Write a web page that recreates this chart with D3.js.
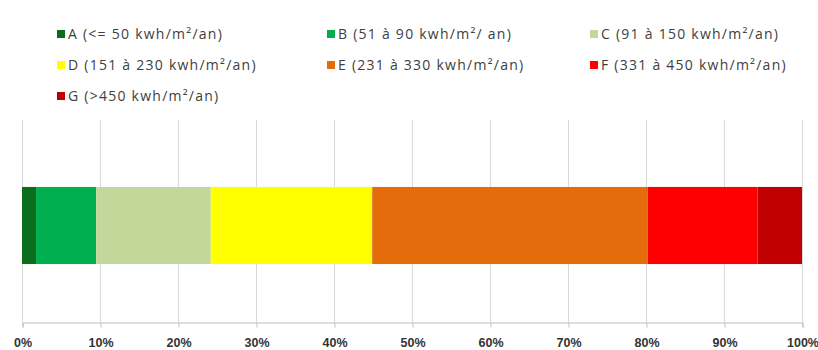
<!DOCTYPE html>
<html>
<head>
<meta charset="utf-8">
<script src="https://cdn.jsdelivr.net/npm/d3@7/dist/d3.min.js"></script>
<style>
  html, body { margin: 0; padding: 0; background: #fff; }
  svg { display: block; font-family: "Open Sans", "DejaVu Sans", sans-serif; }
</style>
</head>
<body>
<svg id="chart" width="818" height="350"></svg>
<script>
// Energy classes, their share of housing (%), and colours
const classes = ["A", "B", "C", "D", "E", "F", "G"];
const labels = [
  "A (<= 50 kwh/m²/an)",
  "B (51 à 90 kwh/m²/ an)",
  "C (91 à 150 kwh/m²/an)",
  "D (151 à 230 kwh/m²/an)",
  "E (231 à 330 kwh/m²/an)",
  "F (331 à 450 kwh/m²/an)",
  "G (>450 kwh/m²/an)"
];
const shares = [1.8, 7.7, 14.7, 20.7, 35.3, 14.1, 5.7];
const colors = ["#0a6e1c", "#00b050", "#c4d79b", "#ffff00", "#e46c0a", "#ff0000", "#c00000"];
const tickValues = [0, 10, 20, 30, 40, 50, 60, 70, 80, 90, 100];

const svg = d3.select("#chart");

const x = d3.scaleLinear().domain([0, 100]).range([22, 802]);
const plotTop = 120, axisY = 322;
const y = d3.scaleBand().domain(["total"]).range([plotTop, axisY])
  .paddingInner(0).paddingOuter(0.81).align(0.536);

// vertical gridlines
svg.append("g")
  .selectAll("line")
  .data(tickValues)
  .join("line")
  .attr("x1", d => x(d) + 0.5).attr("x2", d => x(d) + 0.5)
  .attr("y1", plotTop).attr("y2", axisY)
  .attr("stroke", "#d9d9d9").attr("stroke-width", 1);

// stacked segments
let acc = 0;
const stacked = shares.map((v, i) => { const s = { key: classes[i], x0: acc, x1: acc + v, color: colors[i] }; acc += v; return s; });

svg.append("g")
  .selectAll("rect")
  .data(stacked)
  .join("rect")
  .attr("x", d => x(d.x0))
  .attr("width", d => x(d.x1) - x(d.x0))
  .attr("y", y("total"))
  .attr("height", y.bandwidth())
  .attr("fill", d => d.color);

// bottom axis
const axis = d3.axisBottom(x)
  .tickValues(tickValues)
  .tickFormat(d => d + "%")
  .tickSize(5)
  .tickPadding(11);

const gAxis = svg.append("g")
  .attr("transform", `translate(0.5,${axisY + 0.5})`)
  .call(axis);
gAxis.select(".domain").attr("stroke", "#bfbfbf");
gAxis.selectAll(".tick line").attr("stroke", "#bfbfbf");
gAxis.selectAll(".tick text")
  .attr("fill", "#333")
  .style("font-size", "12.5px")
  .style("font-weight", "bold");

// legend, three columns
const colX = [57, 327, 590];
const rowY = [34, 65, 96];
const legend = svg.append("g")
  .selectAll("g")
  .data(labels)
  .join("g")
  .attr("transform", (d, i) => `translate(${colX[i % 3]},${rowY[Math.floor(i / 3)]})`);

legend.append("rect")
  .attr("x", 0).attr("y", -4)
  .attr("width", 8).attr("height", 8)
  .attr("fill", (d, i) => colors[i]);

legend.append("text")
  .attr("x", 11).attr("y", 0)
  .attr("dy", "0.35em")
  .attr("fill", "#404040")
  .style("font-size", "14px")
  .style("letter-spacing", "1.25px")
  .text(d => d);
</script>
</body>
</html>
